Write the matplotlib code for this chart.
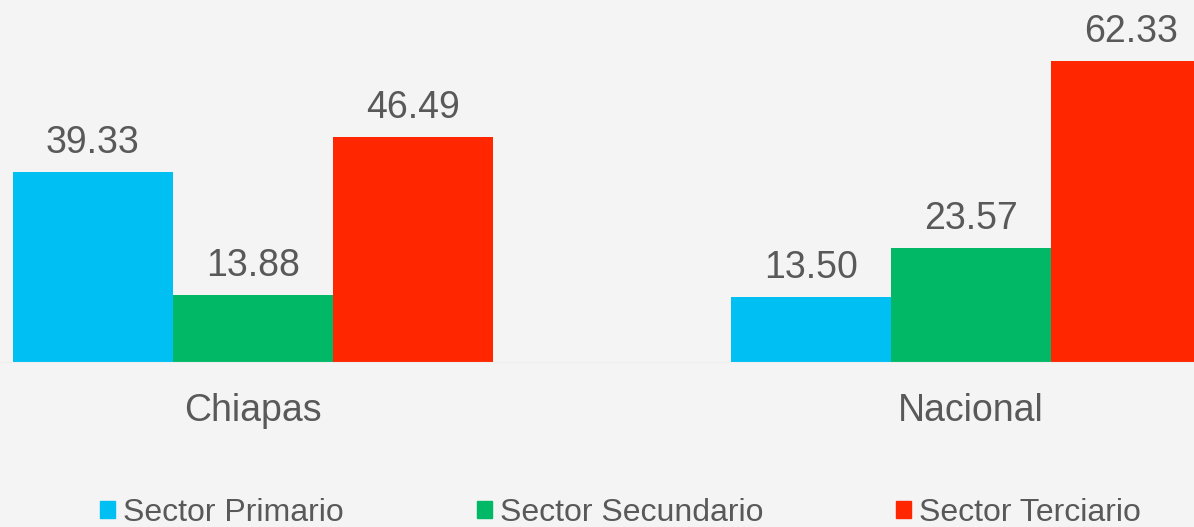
import matplotlib.pyplot as plt
from matplotlib.patches import Patch

plt.rcParams['font.family'] = ['Liberation Sans', 'DejaVu Sans']

regiones = ['Chiapas', 'Nacional']
sectores = ['Sector Primario', 'Sector Secundario', 'Sector Terciario']
valores = {
    'Sector Primario': [39.33, 13.50],
    'Sector Secundario': [13.88, 23.57],
    'Sector Terciario': [46.49, 62.33],
}
colores = ['#00bff3', '#00b865', '#ff2600']

bg = '#f4f4f4'
txt = '#595959'

fig = plt.figure(figsize=(11.94, 5.27), dpi=100, facecolor=bg)
ax = fig.add_axes([0, 0.313, 1, 0.687], facecolor=bg)

ancho = 0.2228
xs = range(len(regiones))
for i, (sector, color) in enumerate(zip(sectores, colores)):
    pos = [x + (i - 1) * ancho for x in xs]
    bars = ax.bar(pos, valores[sector], width=ancho, color=color, zorder=2)
    for b, v in zip(bars, valores[sector]):
        ax.annotate(f'{v:.2f}', (b.get_x() + b.get_width() / 2, v),
                    xytext=(0, 8), textcoords='offset points',
                    ha='center', va='bottom', fontsize=27, color=txt)

ax.set_xlim(-0.352, 1.3106)
ax.set_ylim(0, 74.9)
for s in ['top', 'right', 'left']:
    ax.spines[s].set_visible(False)
ax.spines['bottom'].set_color('#efefef')
ax.set_yticks([])
ax.set_xticks(list(xs))
ax.set_xticklabels(regiones, fontsize=27, color=txt)
ax.tick_params(axis='x', length=0, pad=22)

handles = [Patch(color=c) for c in colores]
fig.legend(handles, sectores, loc='center', bbox_to_anchor=(0.5197, 0.027),
           ncol=3, frameon=False, fontsize=23, labelcolor=txt,
           handlelength=0.47, handleheight=0.47, handletextpad=0.25,
           columnspacing=4.16)

fig.savefig('out.png', dpi=100, facecolor=bg)
